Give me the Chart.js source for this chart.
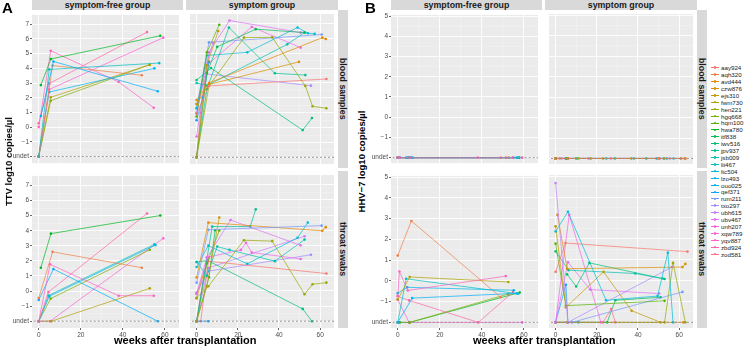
<!DOCTYPE html>
<html>
<head>
<meta charset="utf-8">
<script src="https://cdn.jsdelivr.net/npm/chart.js@4"></script>
<style>
  body { margin: 0; background: #fff; font-family: "Liberation Sans", Arial, sans-serif; }
  #fig { position: relative; width: 745px; height: 346px; overflow: hidden; }
  canvas { position: absolute; }
  .strip { position: absolute; background: #D9D9D9; color: #1A1A1A; font-weight: bold; font-size: 8.8px;
           display: flex; align-items: center; justify-content: center; white-space: nowrap; }
  .vert { writing-mode: vertical-rl; }
  .lbl { position: absolute; white-space: nowrap; color: #000; }
  .leg { position: absolute; font-size: 6.2px; color: #1A1A1A; line-height: 7px; white-space: nowrap; }
</style>
</head>
<body>
<div id="fig"></div>
<script>
const U = -2; // "undet" level

const subjects = ["aay924", "aqh320", "avd444", "czw876", "ejs310", "fwm730", "hen221", "hgq668",
  "hqm100", "hwa780", "itf838", "iwv516", "jpv937", "jsb009", "lii467", "ltc504", "lzo493",
  "ouo025", "qef371", "rum211", "txo297", "ubh615", "ubv467", "unh207", "xqw789", "yqv887",
  "zbd924", "zod581"];

const weekGrid = [0, 10, 20, 30, 40, 50, 60];
const weekTicks = [0, 20, 40, 60];

// TTV, blood, symptom-free group: [subject, weeks, log10 copies/ul]
const ttvBloodFree = [
  ["hwa780", [1, 5.8, 57.8], [2.86, 4.64, 6.22]],
  ["lii467", [0, 5, 57.3], [U, 3.93, 4.36]],
  ["ouo025", [1, 7, 56.6], [0.75, 4.47, 2.44]],
  ["aqh320", [0, 6.6, 49], [U, 4.19, 3.53]],
  ["yqv887", [0, 5.7, 38, 54.7], [0, 5.2, 3.08, 1.32]],
  ["zbd924", [0, 5, 51.5], [0.26, 2.97, 6.47]],
  ["xqw789", [0, 5, 59.2], [U, 2.56, 6.09]],
  ["lzo493", [0, 5, 55], [U, 2.39, 4.0]],
  ["fwm730", [0, 5.7, 52.8], [U, 2.03, 4.25]],
  ["hgq668", [0, 5.7, 52.8], [U, 1.8, 4.25]]
];

// TTV, blood, symptom group
const ttvBloodSym = [
  ["aay924", [0, 6, 63], [0.94, 2.8, 3.27]],
  ["avd444", [0, 6, 61, 62.7], [1.86, 3.0, 6.05, 5.96]],
  ["czw876", [0, 6, 49.7], [1.58, 2.9, 4.42]],
  ["ejs310", [0, 5, 10.5], [U, 4.2, 6.5]],
  ["hen221", [0, 6, 23, 36.7, 52.8, 56.3, 63], [U, 2.8, 6.05, 6.07, 2.8, 1.43, 1.3]],
  ["hqm100", [0, 5, 11], [0.75, 5.06, 6.92]],
  ["itf838", [0, 5, 10, 28.7, 52.4], [U, 3.68, 5.43, 6.62, 6.39]],
  ["iwv516", [0, 7, 51.5, 56], [3.2, 4.0, -0.17, 0.64]],
  ["jpv937", [0, 5, 15.7, 38, 52.8], [U, 2.59, 6.73, 3.65, 3.53]],
  ["jsb009", [0, 5, 44, 52.4], [3.0, 2.82, 5.6, 6.39]],
  ["ltc504", [0, 5, 24.6, 49, 54, 57.3], [1.3, 4.85, 5.06, 6.73, 6.35, 6.3]],
  ["qef371", [0, 3, 6], [0.49, 2.0, 4.42]],
  ["rum211", [0, 6, 60.7], [1.3, 5.73, 6.26]],
  ["txo297", [0, 5, 55.5], [1.58, 3.6, 2.82]],
  ["ubh615", [0, 4, 8], [0.94, 4.0, 5.7]],
  ["ubv467", [0, 6, 16, 50.5], [-0.6, 5.06, 7.2, 6.39]],
  ["unh207", [0, 5, 26.8, 50.5], [1.0, 4.2, 6.77, 5.38]],
  ["zod581", [0, 2, 6], [U, 1.0, 4.42]]
];

// TTV, throat, symptom-free group
const ttvThroatFree = [
  ["hwa780", [1, 5.8, 57.8], [1.55, 3.81, 5.01]],
  ["aqh320", [0, 6.6, 49], [-0.46, 2.6, 1.55]],
  ["yqv887", [0, 5.4, 38, 54.7], [U, 1.78, -0.31, -0.31]],
  ["ouo025", [0, 7, 56.6], [-0.59, 1.46, U]],
  ["zbd924", [0, 4.6, 51.5], [U, -0.07, 5.15]],
  ["lii467", [0, 4.6, 55], [U, -0.3, 3.1]],
  ["lzo493", [0, 5, 55.5], [U, -0.35, 3.05]],
  ["hgq668", [0, 5.7, 52.8], [U, -0.5, 2.74]],
  ["fwm730", [0, 6, 52.8], [U, U, 0.18]],
  ["xqw789", [0, 5.4, 59.2], [U, U, 3.5]]
];

// TTV, throat, symptom group
const ttvThroatSym = [
  ["rum211", [0, 5.7, 60.7], [0.54, 4.03, 4.3]],
  ["avd444", [0, 5.7, 61, 62.7], [0.88, 4.5, 3.96, 4.2]],
  ["ejs310", [0, 5, 11], [U, 0.3, 4.84]],
  ["ubv467", [0, 5, 16.5, 50.5], [-0.2, 2.2, 4.67, 3.0]],
  ["jpv937", [0, 7.6, 26, 28.7], [U, 4.24, 4.24, 5.37]],
  ["hqm100", [0, 5, 11], [U, 1.8, 3.98]],
  ["ltc504", [0, 5.7, 24.6, 49, 54], [1.57, 2.98, 1.78, 3.5, 4.5]],
  ["jsb009", [0, 5, 10, 16, 38, 52.4], [1.9, 1.0, 2.92, 2.7, 1.96, 3.38]],
  ["hen221", [0, 5.7, 23, 36.7, 52.4, 56.3, 63], [-0.46, 0.3, 3.34, 3.28, -0.22, 0.44, 0.54]],
  ["unh207", [0, 5, 21.5, 24, 26.8, 50.5], [U, 2.2, 2.7, 3.17, 2.53, 2.1]],
  ["aay924", [0, 5.4, 63], [-0.2, 1.96, 1.14]],
  ["txo297", [0, 5.7, 55.5], [-0.12, 1.3, 2.38]],
  ["iwv516", [0, 5.4, 51.5, 56], [1.9, 2.0, -1.19, U]],
  ["czw876", [0, 5], [-0.5, 1.9]],
  ["qef371", [0, 5.7], [U, U]],
  ["itf838", [0, 6, 9], [U, 0.9, 4.0]],
  ["zod581", [0, 2, 6], [U, U, 2.2]],
  ["ubh615", [0, 5.5, 52.4], [U, 1.5, 3.6]]
];

// HHV-7, blood: every sample undetected
const hhvBloodFree = [
  ["yqv887", [0, 1, 5.7, 38, 54.7], [U, U, U, U, U]],
  ["lii467", [0, 5, 57.3], [U, U, U]],
  ["ouo025", [1, 7, 56.6], [U, U, U]],
  ["aqh320", [0, 6.6, 49], [U, U, U]],
  ["zbd924", [0, 5, 51.5], [U, U, U]],
  ["xqw789", [0, 5, 59.2], [U, U, U]],
  ["lzo493", [0, 4, 6, 55], [U, U, U, U]],
  ["fwm730", [0, 5.7, 52.8], [U, U, U]],
  ["hwa780", [1, 5.8, 57.8], [U, U, U]]
];

const hhvBloodSym = [
  ["aay924", [0, 2, 6, 63], [U, U, U, U]],
  ["avd444", [0, 6, 61, 62.7], [U, U, U, U]],
  ["czw876", [0, 6, 49.7], [U, U, U]],
  ["hen221", [0, 6, 23, 36.7, 52.8, 63], [U, U, U, U, U, U]],
  ["hqm100", [0, 5, 11, 17], [U, U, U, U]],
  ["itf838", [0, 10, 28.7, 44], [U, U, U, U]],
  ["jsb009", [0, 5, 38, 52.4], [U, U, U, U]],
  ["ltc504", [0, 5, 24.6, 49, 54, 57.3], [U, U, U, U, U, U]],
  ["rum211", [0, 6, 60.7], [U, U, U]],
  ["txo297", [0, 5, 55.5], [U, U, U]],
  ["ubv467", [0, 3, 16, 50.5], [U, U, U, U]],
  ["unh207", [0, 5, 26.8, 50.5], [U, U, U, U]]
];

// HHV-7, throat, symptom-free group
const hhvThroatFree = [
  ["aqh320", [0, 6.5, 49], [1.22, 2.89, -0.79]],
  ["yqv887", [0, 0.8, 4.8, 51.4], [-0.72, 0.45, -0.46, 0.23]],
  ["fwm730", [0, 5.7, 52.6], [-0.9, 0.19, -0.05]],
  ["lzo493", [0, 4.5, 55.2], [-0.59, -0.31, -0.45]],
  ["ouo025", [0, 6.9, 56.5], [U, -0.83, -0.6]],
  ["lii467", [0, 4, 57.3], [U, 0.1, -0.62]],
  ["zbd924", [0, 5.4, 38.3, 54.8], [-0.74, -0.94, U, -0.54]],
  ["hgq668", [0, 5.7, 52.6], [U, U, -0.63]],
  ["hwa780", [1, 5.7, 58], [U, U, -0.56]],
  ["xqw789", [0, 5.4, 59.2], [-0.9, U, U]]
];

// HHV-7, throat, symptom group
const hhvThroatSym = [
  ["ubh615", [0, 6], [4.68, U]],
  ["ltc504", [0, 6, 24.5, 49.5, 54.5, 57], [2.35, 3.3, -0.94, -0.74, 1.34, U]],
  ["aay924", [0, 4.8, 64], [0.42, 1.8, 1.39]],
  ["czw876", [0.9, 5.6, 61.6, 63], [3.15, 0.57, 0.65, 0.8]],
  ["ejs310", [0, 5, 23.3, 36.9, 51], [2.6, -1.28, 0.42, -1.44, U]],
  ["hqm100", [0, 5, 52.9], [1.77, -1.2, -0.97]],
  ["jsb009", [0, 6.3, 38.7, 52], [1.4, 0.5, 0.34, 0.1]],
  ["iwv516", [5.6, 10, 16.4, 52.9], [0.3, -0.28, 0.85, 0.08]],
  ["ubv467", [0, 6, 16.8, 50.3], [U, 0.88, -0.43, -0.62]],
  ["unh207", [0, 6.6, 22], [U, 3.15, U]],
  ["txo297", [6, 56.5], [U, 0.65]],
  ["rum211", [8, 61.6], [U, -0.54]],
  ["hen221", [0, 52.9, 57, 63], [U, U, 0.85, U]],
  ["zod581", [0, 23, 27, 29], [U, U, -1.36, U]],
  ["itf838", [0, 25, 29, 51], [U, U, -0.94, -0.8]],
  ["qef371", [0, 5, 6], [U, -0.2, U]],
  ["avd444", [0, 5.5, 62], [U, U, U]],
  ["jpv937", [0, 11], [U, U]]
];

// ggplot-style hue palette (hcl, c=100, l=65)
function hcl(h, c, l) {
  const hr = h * Math.PI / 180;
  const Xn = 95.047, Yn = 100, Zn = 108.883;
  const un = 4 * Xn / (Xn + 15 * Yn + 3 * Zn), vn = 9 * Yn / (Xn + 15 * Yn + 3 * Zn);
  const Y = Yn * Math.pow((l + 16) / 116, 3);
  const u = c * Math.cos(hr) / (13 * l) + un, v = c * Math.sin(hr) / (13 * l) + vn;
  const X = 9 * Y * u / (4 * v), Z = -X / 3 - 5 * Y + 3 * Y / v;
  const x = X / 100, y = Y / 100, z = Z / 100;
  const r = 3.240479 * x - 1.537150 * y - 0.498535 * z;
  const g = -0.969256 * x + 1.875992 * y + 0.041556 * z;
  const b = 0.055648 * x - 0.204043 * y + 1.057311 * z;
  const gam = t => {
    t = t <= 0.0031308 ? 12.92 * t : 1.055 * Math.pow(t, 1 / 2.4) - 0.055;
    return Math.round(255 * Math.max(0, Math.min(1, t)));
  };
  return `rgb(${gam(r)},${gam(g)},${gam(b)})`;
}
const colors = subjects.map((s, i) => hcl(15 + 360 * i / subjects.length, 100, 65));
const colorOf = name => colors[subjects.indexOf(name)];

const fig = document.getElementById("fig");
const FONT = "'Liberation Sans', Arial, sans-serif";

const panelBg = {
  id: "panelBg",
  beforeDraw(chart) {
    const { ctx, chartArea: a } = chart;
    ctx.save();
    ctx.fillStyle = "#EBEBEB";
    ctx.fillRect(a.left, a.top, a.width, a.height);
    ctx.restore();
  }
};

const halfSteps = (lo, hi) => {
  const out = [];
  for (let v = lo; v <= hi + 1e-9; v += 0.5) out.push({ value: v });
  return out;
};

// o.left/o.top/o.pw/o.ph = plot area box in page pixels
function facet(rows, o) {
  const cv = document.createElement("canvas");
  const xh = o.xAxis ? 11 : 0;
  cv.width = o.pw + o.yw; cv.height = o.ph + xh;
  cv.style.left = (o.left - o.yw) + "px";
  cv.style.top = o.top + "px";
  fig.appendChild(cv);

  const datasets = rows.map(r => ({
    data: r[1].map((wk, i) => ({ x: wk, y: r[2][i] })),
    showLine: true,
    borderColor: colorOf(r[0]),
    backgroundColor: colorOf(r[0]),
    borderWidth: 0.7,
    pointRadius: 1.3,
    pointBorderWidth: 0,
    order: 1
  }));
  // dashed "undet" reference line
  datasets.push({
    data: [{ x: -10, y: U }, { x: 80, y: U }],
    showLine: true,
    borderColor: "#8A8A8A",
    borderWidth: 0.9,
    borderDash: [2, 2],
    pointRadius: 0,
    order: 0
  });

  new Chart(cv, {
    type: "scatter",
    data: { datasets },
    plugins: [panelBg],
    options: {
      responsive: false,
      animation: false,
      events: [],
      layout: { padding: 0 },
      plugins: { legend: { display: false }, tooltip: { enabled: false } },
      scales: {
        x: {
          type: "linear", min: -3.2, max: 66.7,
          border: { display: false },
          afterBuildTicks: s => { s.ticks = weekGrid.map(v => ({ value: v })); },
          ticks: {
            display: o.xAxis, padding: 1, maxRotation: 0, autoSkip: false,
            color: "#4D4D4D", font: { family: FONT, size: 6.5 },
            callback: v => weekTicks.includes(v) ? String(v) : ""
          },
          grid: {
            drawTicks: o.xAxis, tickLength: 2,
            color: c => weekTicks.includes(c.tick.value) ? "#FFFFFF" : "#F4F4F4",
            lineWidth: c => weekTicks.includes(c.tick.value) ? 0.9 : 0.5,
            tickColor: c => weekTicks.includes(c.tick.value) ? "#555" : "rgba(0,0,0,0)"
          },
          afterFit: s => { s.height = xh; }
        },
        y: {
          type: "linear", min: o.yMin, max: o.yMax,
          border: { display: false },
          afterBuildTicks: s => { s.ticks = halfSteps(U, Math.floor(o.yMax)); },
          ticks: {
            display: o.yAxis, padding: 1, autoSkip: false,
            color: "#4D4D4D", font: { family: FONT, size: 6.5 },
            callback: v => v === U ? "undet" : (Number.isInteger(v) ? String(v).replace("-", "\u2212") : "")
          },
          grid: {
            drawTicks: o.yAxis, tickLength: 2,
            color: c => Number.isInteger(c.tick.value) ? "#FFFFFF" : "#F4F4F4",
            lineWidth: c => Number.isInteger(c.tick.value) ? 0.9 : 0.5,
            tickColor: c => Number.isInteger(c.tick.value) ? "#555" : "rgba(0,0,0,0)"
          },
          afterFit: s => { s.width = o.yw; }
        }
      }
    }
  });
}

// panel A: TTV
const yA = { yMin: -2.45, yMax: 7.64 }, yB = { yMin: -2.27, yMax: 5.06 };
facet(ttvBloodFree,  { left: 32,  top: 10,  pw: 151, ph: 158, yw: 22, yAxis: true,  xAxis: false, ...yA });
facet(ttvBloodSym,   { left: 186, top: 10,  pw: 152, ph: 158, yw: 0,  yAxis: false, xAxis: false, ...yA });
facet(ttvThroatFree, { left: 32,  top: 171, pw: 151, ph: 157, yw: 22, yAxis: true,  xAxis: true,  ...yA });
facet(ttvThroatSym,  { left: 186, top: 171, pw: 152, ph: 157, yw: 0,  yAxis: false, xAxis: true,  ...yA });
// panel B: HHV-7
facet(hhvBloodFree,  { left: 391, top: 10,  pw: 151, ph: 158, yw: 22, yAxis: true,  xAxis: false, ...yB });
facet(hhvBloodSym,   { left: 545, top: 10,  pw: 152, ph: 158, yw: 0,  yAxis: false, xAxis: false, ...yB });
facet(hhvThroatFree, { left: 391, top: 171, pw: 151, ph: 157, yw: 22, yAxis: true,  xAxis: true,  ...yB });
facet(hhvThroatSym,  { left: 545, top: 171, pw: 152, ph: 157, yw: 0,  yAxis: false, xAxis: true,  ...yB });

function addDiv(cls, text, css) {
  const d = document.createElement("div");
  d.className = cls;
  d.textContent = text;
  Object.assign(d.style, css);
  fig.appendChild(d);
  return d;
}

// strips
[[32, 186, 338], [391, 545, 697]].forEach(([l1, l2, r]) => {
  addDiv("strip", "symptom-free group", { left: l1 + "px", top: "0px", width: (l2 - 3 - l1) + "px", height: "10px" });
  addDiv("strip", "symptom group", { left: l2 + "px", top: "0px", width: (r - l2) + "px", height: "10px" });
  addDiv("strip vert", "blood samples", { left: r + "px", top: "10px", width: "10px", height: "158px" });
  addDiv("strip vert", "throat swabs", { left: r + "px", top: "171px", width: "10px", height: "157px" });
});

// panel letters and axis titles
addDiv("lbl", "A", { left: "2px", top: "-1px", fontSize: "15px", fontWeight: "bold" });
addDiv("lbl", "B", { left: "365px", top: "-1px", fontSize: "15px", fontWeight: "bold" });
[[185, "TTV log10 copies/\u00b5l", 8], [544, "HHV\u22127 log10 copies/\u00b5l", 362]].forEach(([cx, t, yx]) => {
  const xt = addDiv("lbl", "weeks after transplantation", { top: "335px", fontSize: "11px", lineHeight: "11px", fontWeight: "bold" });
  xt.style.left = (cx - xt.offsetWidth / 2) + "px";
  const yt = addDiv("lbl", t, { fontSize: "9.5px", fontWeight: "bold", transformOrigin: "center" });
  yt.style.left = (yx - yt.offsetWidth / 2) + "px";
  yt.style.top = (161 - yt.offsetHeight / 2) + "px";
  yt.style.transform = "rotate(-90deg)";
});

// legend
subjects.forEach((s, i) => {
  const cy = 67.7 + i * 6.9;
  addDiv("leg", "", { left: "711px", top: (cy - 0.35) + "px", width: "8px", height: "0.7px", background: colors[i] });
  addDiv("leg", "", { left: "713.7px", top: (cy - 1.3) + "px", width: "2.6px", height: "2.6px", borderRadius: "50%", background: colors[i] });
  addDiv("leg", s, { left: "721px", top: (cy - 3.5) + "px" });
});
</script>
</body>
</html>
